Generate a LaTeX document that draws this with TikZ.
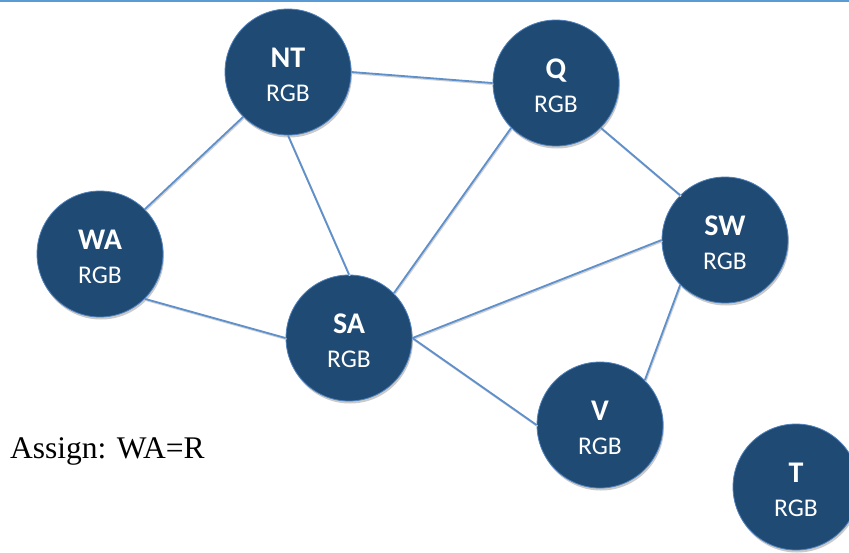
\documentclass[tikz,border=0pt]{standalone}
\usepackage{fontspec}
\setmainfont{Liberation Serif}
\newfontfamily\calib{Carlito}
\usetikzlibrary{shadows}
\definecolor{nodeblue}{HTML}{1F4A74}
\definecolor{rimblue}{HTML}{4F81BD}
\definecolor{edgeblue}{HTML}{5E90CC}
\definecolor{ruleblue}{HTML}{5B9BD5}
\tikzset{
  region/.style={circle, minimum size=126pt, inner sep=0pt, fill=nodeblue,
    draw=rimblue, line width=0.8pt,
    drop shadow={shadow xshift=1pt, shadow yshift=-2.5pt, opacity=0.35, fill=black!60}},
  regiontext/.style={anchor=north, inner sep=0pt, text=white, align=center,
    font=\calib\fontsize{25.5}{34}\selectfont},
  link/.style={draw=edgeblue, line width=1.8pt,
    preaction={draw=black!18, line width=1.8pt, transform canvas={xshift=0.8pt, yshift=-1.2pt}}},
  note/.style={anchor=base west, inner sep=0pt, font=\fontsize{31.5}{36}\selectfont}
}
% a region: circle plus its two-line caption
\newcommand{\region}[3]{%
  \node[region] (#1) at (#2) {};
  \node[regiontext] (#1-text) at ([yshift=24pt]#1.center)
    {{\bfseries\fontsize{30}{34}\selectfont #3}\\RGB};
}
\begin{document}
\begin{tikzpicture}[x=1pt, y=-1pt]
  \useasboundingbox (0,0) rectangle (849,552);
  % thin rule along the top edge
  \draw[ruleblue, line width=2pt] (0,1) -- (849,1);

  \region{NT}{288,72}{NT}
  \region{Q}{556,83}{Q}
  \region{WA}{100,254}{WA}
  \region{SA}{349,338}{SA}
  \region{SW}{725,240}{SW}
  \region{V}{600,425}{V}
  \region{T}{796,487}{T}

  % neighbouring regions
  \path[link] (NT.225) -- (WA.45);
  \path[link] (NT.270) -- (SA.90);
  \path[link] (NT.0)   -- (Q.180);
  \path[link] (Q.225)  -- (SA.45);
  \path[link] (Q.315)  -- (SW.135);
  \path[link] (SW.180) -- (SA.0);
  \path[link] (SW.225) -- (V.45);
  \path[link] (SA.180) -- (WA.315);
  \path[link] (SA.0)   -- (V.180);

  \node[note] (assign) at (10,458) {Assign: WA=R};
\end{tikzpicture}
\end{document}
